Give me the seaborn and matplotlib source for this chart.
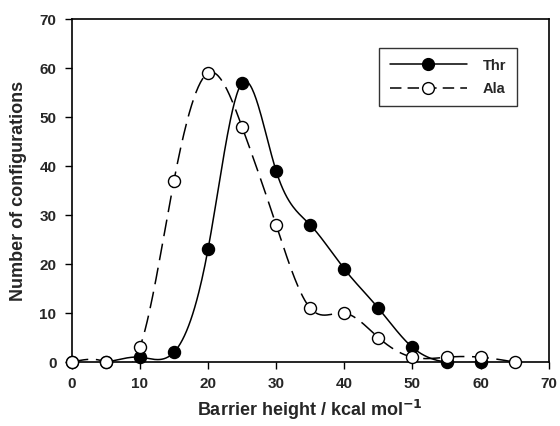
import numpy as np
import pandas as pd
import seaborn as sns
import matplotlib
matplotlib.use("Agg")
import matplotlib.pyplot as plt
from matplotlib.lines import Line2D

thr_x = [0, 5, 10, 15, 20, 25, 30, 35, 40, 45, 50, 55, 60]
thr_y = [0, 0, 1, 2, 23, 57, 39, 28, 19, 11, 3, 0, 0]
ala_x = [0, 5, 10, 15, 20, 25, 30, 35, 40, 45, 50, 55, 60, 65]
ala_y = [0, 0, 3, 37, 59, 48, 28, 11, 10, 5, 1, 1, 1, 0]


def spline(x, y, n=400):
    # natural cubic spline through the points (smooth connecting line)
    x = np.asarray(x, float)
    y = np.asarray(y, float)
    m = len(x)
    h = np.diff(x)
    A = np.zeros((m, m))
    b = np.zeros(m)
    A[0, 0] = A[-1, -1] = 1
    for i in range(1, m - 1):
        A[i, i - 1] = h[i - 1]
        A[i, i] = 2 * (h[i - 1] + h[i])
        A[i, i + 1] = h[i]
        b[i] = 6 * ((y[i + 1] - y[i]) / h[i] - (y[i] - y[i - 1]) / h[i - 1])
    M = np.linalg.solve(A, b)
    xs = np.linspace(x[0], x[-1], n)
    idx = np.clip(np.searchsorted(x, xs) - 1, 0, m - 2)
    x0, x1 = x[idx], x[idx + 1]
    hh = x1 - x0
    t0, t1 = x1 - xs, xs - x0
    ys = (M[idx] * t0**3 + M[idx + 1] * t1**3) / (6 * hh) \
        + (y[idx] / hh - M[idx] * hh / 6) * t0 \
        + (y[idx + 1] / hh - M[idx + 1] * hh / 6) * t1
    return xs, ys


sns.set_theme(style="ticks")
plt.rcParams["font.family"] = ["Liberation Sans", "DejaVu Sans"]
plt.rcParams["font.weight"] = "bold"
plt.rcParams["mathtext.default"] = "bf"

fig = plt.figure(figsize=(5.6, 4.26), dpi=100)
ax = fig.add_axes([0.128, 0.15, 0.852, 0.805])

tx, ty = spline(thr_x, thr_y)
axx, axy = spline(ala_x, ala_y)
sns.lineplot(x=tx, y=ty, ax=ax, color="black", linewidth=1.1, estimator=None, sort=False)
sns.lineplot(x=axx, y=axy, ax=ax, color="black", linewidth=1.1, estimator=None, sort=False,
             linestyle=(0, (11, 5)))

pts = pd.concat([
    pd.DataFrame({"x": thr_x, "y": thr_y, "s": "Thr"}),
    pd.DataFrame({"x": ala_x, "y": ala_y, "s": "Ala"}),
])
sns.scatterplot(data=pts[pts.s == "Thr"], x="x", y="y", ax=ax, color="black",
                edgecolor="black", s=75, linewidth=1, zorder=3, clip_on=False)
sns.scatterplot(data=pts[pts.s == "Ala"], x="x", y="y", ax=ax, color="white",
                edgecolor="black", s=75, linewidth=1, zorder=4, clip_on=False)

ax.set_xlim(0, 70)
ax.set_ylim(0, 70)
ax.set_xticks(range(0, 71, 10))
ax.set_yticks(range(0, 71, 10))
ax.tick_params(direction="out", length=5, width=1, labelsize=11, color="black", pad=6)
for lab in ax.get_xticklabels() + ax.get_yticklabels():
    lab.set_fontweight("bold")
for sp in ax.spines.values():
    sp.set_linewidth(1.2)
    sp.set_color("black")

ax.set_xlabel("Barrier height / kcal mol$^{-1}$", fontsize=13, fontweight="bold", labelpad=5)
ax.set_ylabel("Number of configurations", fontsize=13, fontweight="bold", labelpad=9)

handles = [
    Line2D([], [], color="black", lw=1.1, marker="o", markersize=8.5,
           markerfacecolor="black", markeredgecolor="black"),
    Line2D([], [], color="black", lw=1.1, linestyle=(0, (7.5, 4)), marker="o", markersize=8.5,
           markerfacecolor="white", markeredgecolor="black"),
]
leg = ax.legend(handles, ["Thr", "Ala"], loc="upper left", bbox_to_anchor=(0.645, 0.915),
                frameon=True, fancybox=False, edgecolor="black", fontsize=10.5,
                handlelength=5.3, borderpad=0.7, labelspacing=0.65, handletextpad=1.1,
                borderaxespad=0)
leg.get_frame().set_linewidth(1)
for t in leg.get_texts():
    t.set_fontweight("bold")

fig.savefig("out.png", dpi=100)
